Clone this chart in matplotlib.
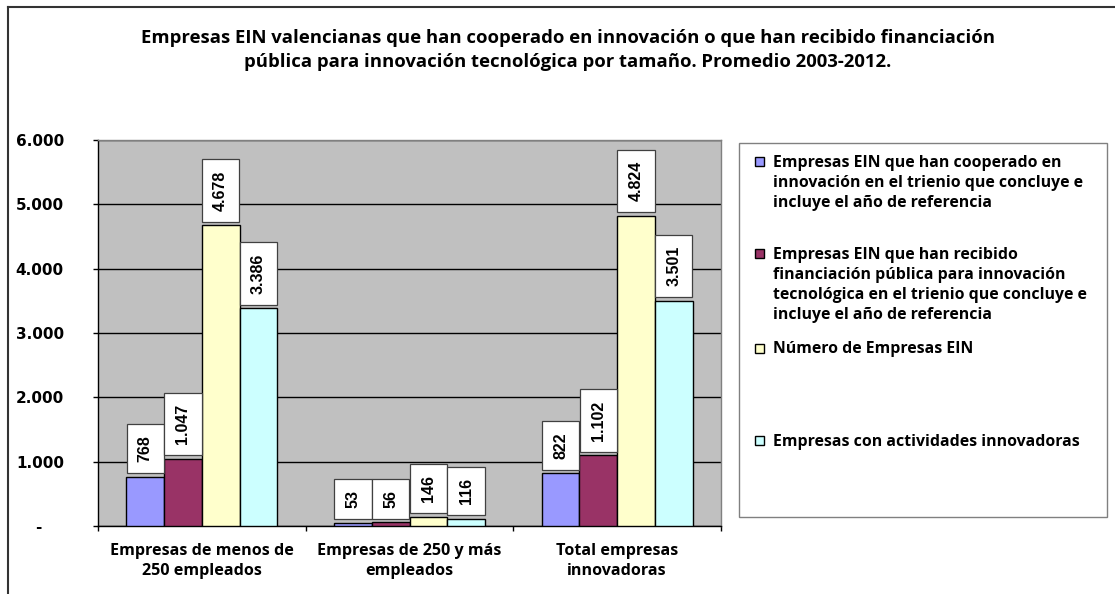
import numpy as np
import matplotlib.pyplot as plt
from matplotlib.patches import Rectangle
from matplotlib.lines import Line2D

# data
categories = ["Empresas de menos de\n250 empleados",
              "Empresas de 250 y más\nempleados",
              "Total empresas\ninnovadoras"]
series_names = ["Empresas EIN que han cooperado en\ninnovación en el trienio que concluye e\nincluye el año de referencia",
                "Empresas EIN que han recibido\nfinanciación pública para innovación\ntecnológica en el trienio que concluye e\nincluye el año de referencia",
                "Número de Empresas EIN",
                "Empresas con actividades innovadoras"]
cooperado = [768, 53, 822]
financiacion = [1047, 56, 1102]
numero_ein = [4678, 146, 4824]
actividades = [3386, 116, 3501]
yticks = [0, 1000, 2000, 3000, 4000, 5000, 6000]

series = [cooperado, financiacion, numero_ein, actividades]
colors = ["#9999FF", "#993366", "#FFFFCC", "#CCFFFF"]

W, H, DPI = 1115, 594, 100
fig = plt.figure(figsize=(W / DPI, H / DPI), dpi=DPI)
fig.patch.set_facecolor("white")


def px(x, y):
    # pixel position (from top-left) to figure fraction
    return x / W, 1 - y / H


# plot area
l, t = px(98, 140)
r, b = px(721, 526)
ax = fig.add_axes([l, b, r - l, t - b])
ax.set_facecolor("#C0C0C0")

x = np.arange(len(categories))
bw = 0.1815
for i, vals in enumerate(series):
    xs = x + (i - 1.5) * bw
    ax.bar(xs, vals, width=bw, color=colors[i], edgecolor="black",
           linewidth=1, zorder=3)
    for xi, v in zip(xs, vals):
        lab = f"{v:,}".replace(",", ".")
        ax.annotate(lab, (xi, v), xytext=(0, 14.5), textcoords="offset pixels",
                    rotation=90, ha="center", va="bottom",
                    fontsize=11.5, fontweight="bold", family="Liberation Sans",
                    bbox=dict(boxstyle="square,pad=0.7", fc="white",
                              ec="#404040", lw=0.9), zorder=4)

ax.set_xlim(-0.5, len(categories) - 0.5)
ax.set_ylim(0, 6000)
ax.set_yticks(yticks)
ax.set_yticklabels([f"{v:,}".replace(",", ".") if v else "-    " for v in yticks],
                   fontsize=11, fontweight="bold", family="DejaVu Sans")
ax.yaxis.grid(True, color="black", linewidth=1, zorder=1)
ax.set_axisbelow(True)
ax.tick_params(axis="y", length=3.6, width=1, pad=21, direction="out")

ax.set_xticks(x)
ax.set_xticklabels(categories, fontsize=11.6, fontweight="bold", family="Open Sans",
                   linespacing=1.3)
ax.set_xticks(np.arange(len(categories) + 1) - 0.5, minor=True)
ax.tick_params(axis="x", which="major", length=0, pad=12.5)
ax.tick_params(axis="x", which="minor", length=3.6, width=1, direction="out")

for s in ["left", "bottom"]:
    ax.spines[s].set_color("black")
    ax.spines[s].set_linewidth(1)
for s in ["top", "right"]:
    ax.spines[s].set_color("#808080")
    ax.spines[s].set_linewidth(1)

# title
tx, ty = px(568, 50)
fig.text(tx, ty, "Empresas EIN valencianas que han cooperado en innovación o que han recibido financiación\n"
         "pública para innovación tecnológica por tamaño. Promedio 2003-2012.",
         ha="center", va="center", fontsize=13.3, fontweight="bold",
         family="Open Sans", linespacing=1.36)

# legend box drawn by hand to follow the uneven spacing of the original
lx0, ly1 = px(739, 143)
lx1, ly0 = px(1107, 517)
fig.add_artist(Rectangle((lx0, ly0), lx1 - lx0, ly1 - ly0, transform=fig.transFigure,
                         fc="white", ec="#808080", lw=1))
entry_y = [161.7, 254, 348, 440.7]
for name, c, yy in zip(series_names, colors, entry_y):
    mx, my = px(755, yy + 4.5)
    fig.add_artist(Rectangle((mx, my), 9 / W, 9 / H, transform=fig.transFigure,
                             fc=c, ec="black", lw=1))
    txx, tyy = px(773, yy - 7)
    fig.text(txx, tyy, name, ha="left", va="top", fontsize=11.4, fontweight="bold",
             family="Open Sans", linespacing=1.33)

# outer chart frame (only top and left edges show)
fx, fy = px(8, 7)
fig.add_artist(Line2D([fx, fx], [0, fy], transform=fig.transFigure, color="#333333", lw=1.5))
fig.add_artist(Line2D([fx, 1], [fy, fy], transform=fig.transFigure, color="#333333", lw=1.5))

fig.savefig("out.png", dpi=DPI)
